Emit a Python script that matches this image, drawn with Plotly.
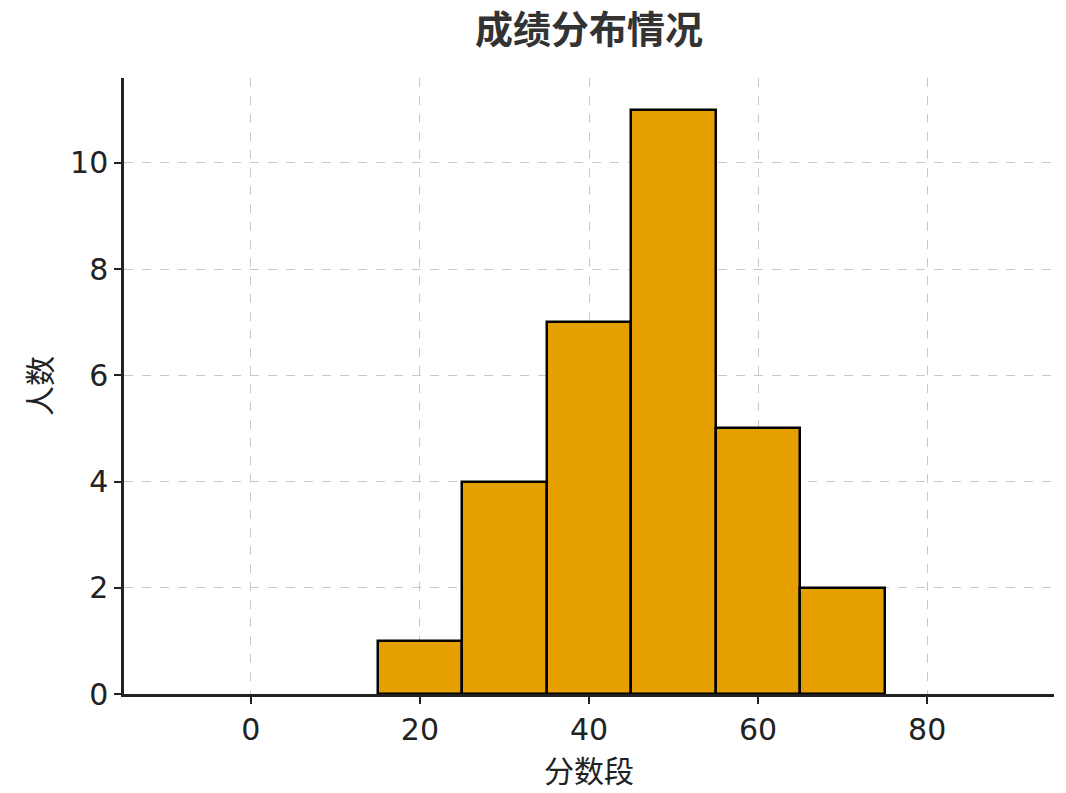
import plotly.graph_objects as go

bin_centers = [20, 30, 40, 50, 60, 70]
counts = [1, 4, 7, 11, 5, 2]
bin_width = 10
title_text = "成绩分布情况"
x_label = "分数段"
y_label = "人数"

fig = go.Figure(go.Bar(
    x=bin_centers, y=counts, width=[bin_width]*len(counts),
    marker=dict(color="#E5A000", line=dict(color="black", width=2.5)),
))
font = "Noto Sans CJK SC, DejaVu Sans, sans-serif"
axis_common = dict(
    showgrid=True, gridcolor="#c8c8c8", griddash="dash", gridwidth=1.2,
    showline=True, linecolor="#222", linewidth=2.5,
    ticks="outside", ticklen=7, tickwidth=2, tickcolor="#222",
    tickfont=dict(size=30, color="#222", family="DejaVu Sans"), zeroline=False,
)
fig.update_layout(
    width=1066, height=793, plot_bgcolor="white", paper_bgcolor="white",
    margin=dict(l=116, r=20, t=70, b=107),
    font=dict(family=font, color="#222"),
    title=dict(text="<b>" + title_text + "</b>", x=0.545, xanchor="center", y=0.99, yanchor="top",
               font=dict(size=38, color="#333")),
    xaxis=dict(range=[-15, 95], tickvals=[0, 20, 40, 60, 80],
               title=dict(text=x_label, font=dict(size=30), standoff=10), **axis_common),
    yaxis=dict(range=[0, 11.6], tickvals=[0, 2, 4, 6, 8, 10],
               title=dict(text=y_label, font=dict(size=30), standoff=10), **axis_common),
    showlegend=False, bargap=0,
)
fig.write_html("out.html")
